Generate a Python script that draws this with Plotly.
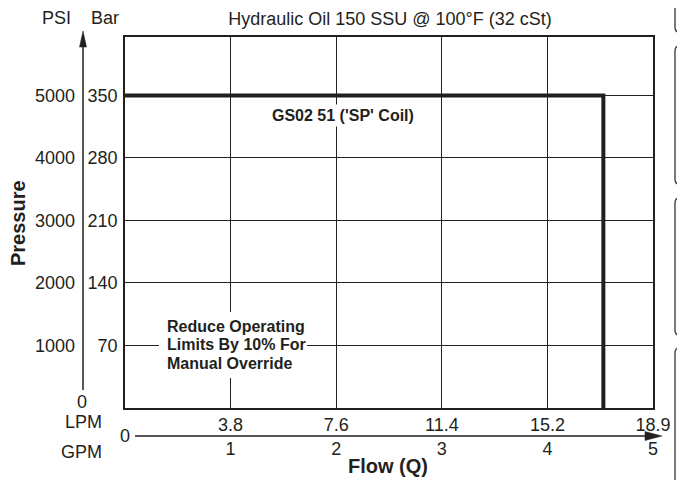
import plotly.graph_objects as go

# ---------------- data ----------------
gpm_ticks = [1, 2, 3, 4, 5]
lpm_labels = ["3.8", "7.6", "11.4", "15.2", "18.9"]
gpm_labels = ["1", "2", "3", "4", "5"]
bar_ticks = [70, 140, 210, 280, 350]
psi_ticks = [1000, 2000, 3000, 4000, 5000]

curve_flow_gpm = [0, 4.53, 4.53]
curve_pressure_bar = [350, 350, 0]

title_text = "Hydraulic Oil 150 SSU @ 100°F (32 cSt)"
curve_label = "GS02 51 ('SP' Coil)"
note_lines = ["Reduce Operating", "Limits By 10% For", "Manual Override"]

# ---------------- layout helpers ----------------
W, H = 685, 480
OFF = 8  # page body margin of the html page
INK = "#231f20"
FONT = "Liberation Sans, Arial, Helvetica, sans-serif"

def px(x):
    """screen x (px) -> paper x"""
    return (x - OFF) / W

def py(y):
    """screen y (px) -> paper y"""
    return (H - (y - OFF)) / H

LEFT, RIGHT, TOP, BOTTOM = 125, 653, 37, 408
x_dom = [px(LEFT), px(RIGHT)]
y_dom = [py(BOTTOM), py(TOP)]
bar_range = [0, 415.5]
psi_range = [bar_range[0] * 1000 / 70, bar_range[1] * 1000 / 70]
bar_per_px = (bar_range[1] - bar_range[0]) / (BOTTOM - TOP)

fig = go.Figure()

fig.add_trace(go.Scatter(
    x=curve_flow_gpm, y=curve_pressure_bar, mode="lines",
    line=dict(color=INK, width=4), showlegend=False, hoverinfo="skip",
    xaxis="x", yaxis="y",
))
# invisible helpers so the extra axes are drawn
fig.add_trace(go.Scatter(x=[0], y=[0], mode="markers", marker=dict(opacity=0),
                         showlegend=False, hoverinfo="skip", xaxis="x2", yaxis="y"))
fig.add_trace(go.Scatter(x=[0], y=[0], mode="markers", marker=dict(opacity=0),
                         showlegend=False, hoverinfo="skip", xaxis="x", yaxis="y2"))

tick_font = dict(family=FONT, size=18, color=INK)

fig.update_layout(
    width=W, height=H,
    margin=dict(l=0, r=0, t=0, b=0, autoexpand=False),
    paper_bgcolor="white", plot_bgcolor="white",
    font=dict(family=FONT, color=INK),
    title=dict(text=title_text, x=px(390), xanchor="center", y=py(18.5), yanchor="middle",
               font=dict(family=FONT, size=18, color=INK)),
    xaxis=dict(domain=x_dom, range=[0, 5], tickvals=gpm_ticks, ticktext=lpm_labels,
               showgrid=True, gridcolor=INK, gridwidth=1.3, zeroline=False,
               showline=True, mirror=True, linecolor=INK, linewidth=1.6,
               ticks="", tickfont=tick_font, anchor="y", fixedrange=True),
    xaxis2=dict(overlaying="x", anchor="free", position=py(436), range=[0, 5],
                tickvals=gpm_ticks, ticktext=gpm_labels, showgrid=False, zeroline=False,
                showline=False, ticks="", tickfont=tick_font, side="bottom", fixedrange=True),
    yaxis=dict(domain=y_dom, range=bar_range, tickvals=bar_ticks,
               showgrid=True, gridcolor=INK, gridwidth=1.3, zeroline=False,
               showline=True, mirror=True, linecolor=INK, linewidth=1.6,
               ticks="", tickfont=tick_font, anchor="x", ticklabelstandoff=2, fixedrange=True),
    yaxis2=dict(overlaying="y", anchor="free", position=px(83), side="left",
                range=psi_range, tickvals=psi_ticks, showgrid=False, zeroline=False,
                showline=False, ticks="", tickfont=tick_font, ticklabelstandoff=8,
                fixedrange=True),
)

shapes = []
# vertical pressure arrow
shapes.append(dict(type="line", xref="paper", yref="paper",
                   x0=px(83), x1=px(83), y0=py(390), y1=py(46),
                   line=dict(color=INK, width=1.5)))
shapes.append(dict(type="path", xref="paper", yref="paper",
                   path=f"M {px(79.5)},{py(47)} L {px(86.5)},{py(47)} L {px(83)},{py(31)} Z",
                   fillcolor=INK, line=dict(color=INK, width=0.5)))
# horizontal flow arrow
shapes.append(dict(type="line", xref="paper", yref="paper",
                   x0=px(135), x1=px(647), y0=py(436), y1=py(436),
                   line=dict(color=INK, width=1.5)))
shapes.append(dict(type="path", xref="paper", yref="paper",
                   path=f"M {px(645)},{py(431.5)} L {px(645)},{py(440.5)} L {px(662)},{py(436)} Z",
                   fillcolor=INK, line=dict(color=INK, width=0.5)))
# right-edge page frame fragments (plain lines + rounded ends)
FX = 675
for (a, b) in [(-10, 33), (45, 185), (197, 336), (347, 495)]:
    shapes.append(dict(type="line", xref="paper", yref="paper",
                       x0=px(FX), x1=px(FX), y0=py(a + 6), y1=py(b - 6),
                       line=dict(color="#444444", width=1.4)))
    shapes.append(dict(type="path", xref="paper", yref="paper",
                       path=(f"M {px(FX)},{py(a + 6)} Q {px(FX)},{py(a)} {px(FX + 7)},{py(a)} "
                             f"M {px(FX)},{py(b - 6)} Q {px(FX)},{py(b)} {px(FX + 7)},{py(b)}"),
                       line=dict(color="#444444", width=1.4)))

# white backdrop behind the override note (breaks the grid lines like the reference)
note_x = 0.388                      # GPM, left edge of the note text
note_mid = 70.6                     # bar, centre of the middle line
note_step = 18.3 * bar_per_px       # line pitch in bar units
shapes.append(dict(type="rect", xref="x", yref="y", xsizemode="pixel", ysizemode="pixel",
                   xanchor=note_x, yanchor=note_mid, x0=-7, x1=141, y0=-33, y1=33,
                   fillcolor="white", line=dict(width=0), layer="above"))
fig.update_layout(shapes=shapes)

lab = dict(family=FONT, size=18, color=INK)
ann = [
    dict(text="PSI", x=px(73), y=py(18), xanchor="right", font=lab),
    dict(text="Bar", x=px(89), y=py(18), xanchor="left", font=lab),
    dict(text="0", x=px(82), y=py(402), xanchor="center", font=lab),
    dict(text="LPM", x=px(104), y=py(422), xanchor="right", font=lab),
    dict(text="GPM", x=px(104), y=py(452), xanchor="right", font=lab),
    dict(text="0", x=px(125), y=py(436), xanchor="center", font=lab),
    dict(text="<b>Flow (Q)</b>", x=px(388), y=py(466), xanchor="center",
         font=dict(family=FONT, size=20, color=INK)),
    dict(text="<b>Pressure</b>", x=px(18), y=py(223), xanchor="center", textangle=-90,
         font=dict(family=FONT, size=20, color=INK)),
]
for a in ann:
    a.update(xref="paper", yref="paper", yanchor="middle", showarrow=False)
fig.update_layout(annotations=ann)

fig.add_annotation(text=f"<b>{curve_label}</b>", x=2.06, y=328, xref="x", yref="y",
                   showarrow=False, bgcolor="white", borderpad=2,
                   font=dict(family=FONT, size=16, color=INK))
for i, line in enumerate(note_lines):
    fig.add_annotation(text=f"<b>{line}</b>", x=note_x, y=note_mid + (1 - i) * note_step,
                       xref="x", yref="y", xanchor="left", yanchor="middle",
                       showarrow=False, borderpad=0,
                       font=dict(family=FONT, size=16, color=INK))

fig.write_html("out.html")
